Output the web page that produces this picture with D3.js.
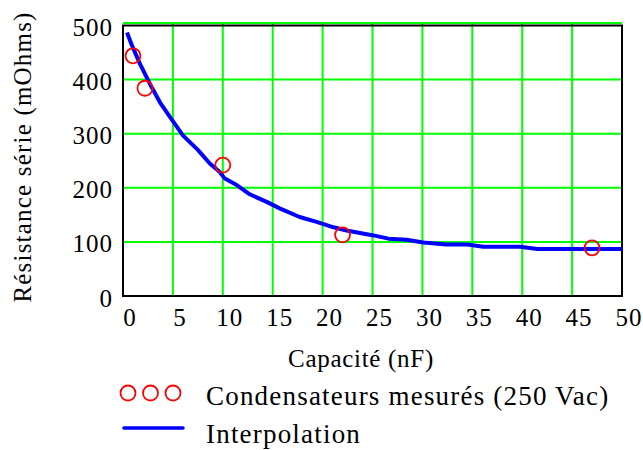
<!DOCTYPE html>
<html>
<head>
<meta charset="utf-8">
<script src="https://cdn.jsdelivr.net/npm/d3@7"></script>
<style>
  body { margin: 0; background: #fff; }
</style>
</head>
<body>
<div class="graph"></div>
<script>
// measured capacitors (nF, mOhms)
var measuredC = [1, 2.2, 10, 22, 47];
var measuredR = [444, 384, 242, 113, 89];

// interpolation curve
var curveC = [0.4, 0.9, 1.7, 2.7, 3.7, 4.7, 6.0, 7.5, 8.7, 9.7, 10.2, 11.4, 12.7, 14.4, 15.7, 17.7, 19.4, 21.1, 22.4,
              25.1, 26.6, 28.4, 30.1, 32.4, 34.5, 36.1, 39.8, 41.5, 50];
var curveR = [487, 463, 429, 392, 358, 331, 297, 270, 245, 229, 217, 205, 188, 174, 162, 146, 137, 127, 121,
              112, 106, 104, 99, 95, 95, 91, 91, 87, 87];

var xTicks = [0, 5, 10, 15, 20, 25, 30, 35, 40, 45, 50];
var yTicks = [0, 100, 200, 300, 400, 500];

var xTitle = "Capacité (nF)";
var yTitle = "Résistance série (mOhms)";
var legendLabels = ["Condensateurs mesurés (250 Vac)", "Interpolation"];

// config
var width = 643;
var height = 450;
var plot = { left: 123, right: 622, top: 25.5, bottom: 296 };
var serif = "'Liberation Serif'";

var svg = d3.select(".graph").append("svg")
    .attr("width", width)
    .attr("height", height)
    .style("display", "block");

svg.append("rect").attr("width", width).attr("height", height).attr("fill", "#fff");

// scales
var x = d3.scaleLinear().domain([0, 50]).range([plot.left, plot.right]);
var y = d3.scaleLinear().domain([0, 500]).range([plot.bottom, plot.top]);

// grid
var grid = svg.append("g").attr("stroke", "#00ff00").attr("stroke-width", 2);
grid.selectAll(".vg").data(xTicks.slice(1, -1)).enter().append("line")
    .attr("x1", function (d) { return x(d); })
    .attr("x2", function (d) { return x(d); })
    .attr("y1", plot.top - 3)
    .attr("y2", plot.bottom);
grid.selectAll(".hg").data(yTicks.slice(1)).enter().append("line")
    .attr("x1", plot.left)
    .attr("x2", plot.right)
    .attr("y1", function (d) { return d === 500 ? y(d) - 2.5 : y(d); })
    .attr("y2", function (d) { return d === 500 ? y(d) - 2.5 : y(d); });

// frame
svg.append("rect")
    .attr("x", plot.left).attr("y", plot.top)
    .attr("width", plot.right - plot.left).attr("height", plot.bottom - plot.top)
    .attr("fill", "none").attr("stroke", "#000").attr("stroke-width", 2);

// axes
var xAxis = svg.append("g")
    .attr("transform", "translate(0," + plot.bottom + ")")
    .call(d3.axisBottom(x).tickValues(xTicks).tickSize(0).tickPadding(12));
var yAxis = svg.append("g")
    .attr("transform", "translate(" + plot.left + ",0)")
    .call(d3.axisLeft(y).tickValues(yTicks).tickSize(0).tickPadding(10));
[xAxis, yAxis].forEach(function (a) {
    a.attr("font-family", null).attr("font-size", null);
    a.select(".domain").remove();
    a.selectAll("text").style("font-family", serif).style("font-size", "25px")
        .style("letter-spacing", "1px").attr("fill", "#000");
});
xAxis.selectAll("text").attr("dx", 6.5);
yAxis.selectAll("text").attr("dy", "0.4em");

// curve
var line = d3.line()
    .x(function (d, i) { return x(curveC[i]); })
    .y(function (d, i) { return y(curveR[i]); });
svg.append("path")
    .datum(curveC)
    .attr("d", line)
    .attr("fill", "none")
    .attr("stroke", "#0000ff")
    .attr("stroke-width", 4)
    .attr("stroke-linejoin", "round");

// measured points
svg.selectAll(".pt").data(measuredC).enter().append("circle")
    .attr("cx", function (d) { return x(d); })
    .attr("cy", function (d, i) { return y(measuredR[i]); })
    .attr("r", 7.5)
    .attr("fill", "none")
    .attr("stroke", "#ff0000")
    .attr("stroke-width", 1.8);

// titles
svg.append("text")
    .attr("x", 361).attr("y", 367)
    .attr("text-anchor", "middle")
    .style("font-family", serif)
    .style("font-size", "25px")
    .style("letter-spacing", "0.7px")
    .text(xTitle);
svg.append("text")
    .attr("transform", "translate(31,157) rotate(-90)")
    .attr("text-anchor", "middle")
    .style("font-family", serif)
    .style("font-size", "25px")
    .style("letter-spacing", "1.2px")
    .text(yTitle);

// legend
[128, 150.5, 173].forEach(function (cx) {
    svg.append("circle").attr("cx", cx).attr("cy", 393).attr("r", 7.5)
        .attr("fill", "none").attr("stroke", "#ff0000").attr("stroke-width", 1.8);
});
svg.append("line").attr("x1", 124).attr("x2", 183).attr("y1", 428).attr("y2", 428)
    .attr("stroke", "#0000ff").attr("stroke-width", 3.5).attr("stroke-linecap", "round");
svg.append("text").attr("x", 206).attr("y", 405).style("font-family", serif).style("font-size", "27px")
    .style("letter-spacing", "1.2px").text(legendLabels[0]);
svg.append("text").attr("x", 206).attr("y", 443).style("font-family", serif).style("font-size", "27px")
    .style("letter-spacing", "1.2px").text(legendLabels[1]);
</script>
</body>
</html>
